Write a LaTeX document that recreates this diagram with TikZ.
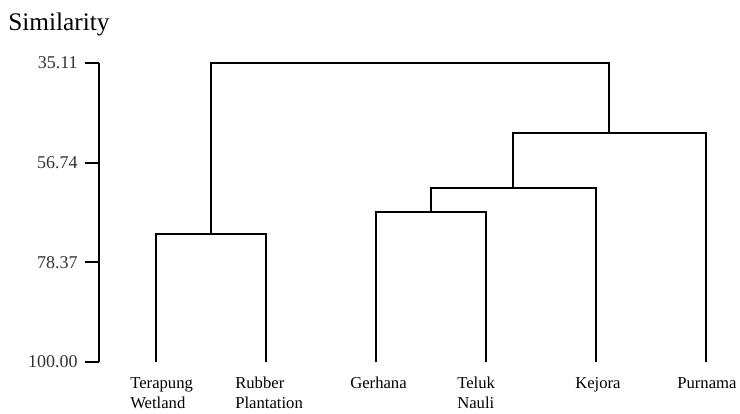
\documentclass[tikz,border=0pt]{standalone}
\usepackage{fontspec}
\setmainfont{Liberation Serif}
\usetikzlibrary{positioning}

\begin{document}
\begin{tikzpicture}[x=0.75pt,y=-0.75pt,
  tree/.style={line width=1pt},
  axisline/.style={line width=1.4pt},
  leaf/.style={anchor=north west,inner sep=0pt,align=left,font=\fontsize{12.5}{15}\selectfont},
  ticklabel/.style={anchor=east,inner sep=0pt,text=black!80,font=\fontsize{13.5}{16}\selectfont}]
\useasboundingbox (0,0) rectangle (740,414);
\node[anchor=base west,inner sep=0pt,font=\fontsize{19}{22}\selectfont] (title) at (8,31) {Similarity};
% scale
\coordinate (top) at (99,63);
\coordinate (bot) at (99,362);
\draw[axisline] (top) -- (bot);
\foreach \v/\y [count=\i] in {35.11/63,56.74/162.7,78.37/262.3,100.00/362}{
  \coordinate (k\i) at (99,\y);
  \coordinate (kk\i) at (85,\y);
  \draw[axisline] (k\i) -- (kk\i);
  \node[ticklabel] (n\i) at (78,\y) {\v};
}
% leaves
\coordinate (l1) at (156,362);
\coordinate (l2) at (266,362);
\coordinate (l3) at (376,362);
\coordinate (l4) at (486,362);
\coordinate (l5) at (596,362);
\coordinate (l6) at (706,362);
\node[leaf] (tw) at (130,377) {Terapung\\Wetland};
\node[leaf] (rp) at (235,377) {Rubber\\Plantation};
\node[leaf] (gh) at (350,377) {Gerhana};
\node[leaf] (tn) at (457,377) {Teluk\\Nauli};
\node[leaf] (kj) at (575,377) {Kejora};
\node[leaf] (pn) at (677,377) {Purnama};
% joins
\coordinate (ma) at (211,234);
\coordinate (mb) at (431,212);
\coordinate (mc) at (513,188);
\coordinate (md) at (609,133);
\coordinate (me) at (410,63);
\draw[tree] (l1) |- (ma) -| (l2);
\draw[tree] (l3) |- (mb) -| (l4);
\draw[tree] (mb) |- (mc) -| (l5);
\draw[tree] (mc) |- (md) -| (l6);
\draw[tree] (ma) |- (me) -| (md);
\end{tikzpicture}
\end{document}
